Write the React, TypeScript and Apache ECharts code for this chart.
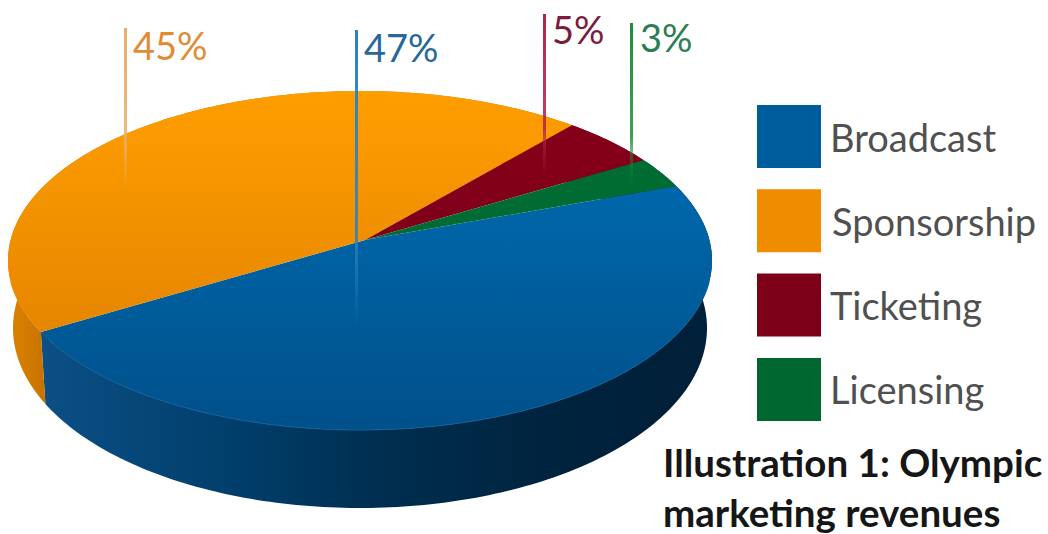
import React, { useEffect, useRef } from "react";
import * as echarts from "echarts";

// Olympic marketing revenue shares, in percent
const categories = ["Broadcast", "Sponsorship", "Ticketing", "Licensing"];
const shares = [47, 45, 5, 3];

const swatchColors = ["#005d9c", "#f08c00", "#7b0018", "#00662f"];
const topStops = [
  ["#0071b8", "#00508a"],
  ["#ff9e00", "#dc7c00"],
  ["#860018", "#78001a"],
  ["#006f34", "#00642e"],
];
const rimColors = ["#0f5f98", "#ea9010", "#860018", "#006f34"];
const labelColors = ["#27679a", "#e08c34", "#7c1c3c", "#2e7c54"];
const calloutColors = ["#2b82c0", "#e6b068", "#b4224e", "#1f8e38"];
const calloutX = [355, 124, 543, 630];
const calloutTop = [30, 28, 14, 23];
const calloutBottom = [327, 190, 177, 187];
const labelX = [364, 133, 552, 640];
const labelY = [47, 45, 29, 37];
const legendTextInset = [4, 6, 4, 4];

// Projected disc: top face, base outline and the pie's vanishing tilt
const top = { cx: 360, cy: 260.5, rx: 352, ry: 169.5 };
const base = { cx: 360, cy: 328, rx: 347, ry: 180 };
const apex = [365, 240];
const tilt = 0.115;
const startAngle = 20;

const total = shares.reduce((a, b) => a + b, 0);

function sliceRange(index: number) {
  let before = 0;
  for (let i = 0; i < index; i++) before += shares[i];
  const from = startAngle - (before / total) * 360;
  return { from, sweep: (shares[index] / total) * 360 };
}

// A rim angle on the round pie, carried through the perspective tilt
function project(deg: number, e: { cx: number; cy: number; rx: number; ry: number }) {
  const u = Math.cos((deg * Math.PI) / 180);
  const v = Math.sin((deg * Math.PI) / 180);
  const w = 1 + tilt * v;
  const x = (u * Math.sqrt(1 - tilt * tilt)) / w;
  const y = (v + tilt) / w;
  return [e.cx + e.rx * x, e.cy - e.ry * y];
}

function arc(index: number, e: typeof top) {
  const { from, sweep } = sliceRange(index);
  const n = Math.max(8, Math.ceil(sweep));
  const pts: number[][] = [];
  for (let i = 0; i <= n; i++) pts.push(project(from - (sweep * i) / n, e));
  return pts;
}

const blueSide = new echarts.graphic.LinearGradient(
  47, 0, 712, 0,
  [
    { offset: 0, color: "#0b4f85" },
    { offset: 0.3, color: "#003d69" },
    { offset: 0.52, color: "#002d4e" },
    { offset: 0.8, color: "#00223c" },
    { offset: 1, color: "#001f38" },
  ],
  true
);
const orangeSide = new echarts.graphic.LinearGradient(
  10, 0, 47, 0,
  [
    { offset: 0, color: "#d98200" },
    { offset: 1, color: "#c87200" },
  ],
  true
);
const sideFills = [blueSide, orangeSide, "#5a0012", "#004a22"];

function renderSide(params: any) {
  const i = params.dataIndex;
  const points = [...arc(i, top), ...arc(i, base).reverse()];
  return { type: "polygon", shape: { points }, style: { fill: sideFills[i] }, silent: true };
}

function renderTop(index: number) {
  return () => {
    const rim = arc(index, top);
    const front = rim.filter((p) => p[1] > top.cy + 20);
    const children: any[] = [
      {
        type: "polygon",
        shape: { points: [apex, ...rim] },
        style: {
          fill: new echarts.graphic.LinearGradient(
            0, top.cy - top.ry, 0, top.cy + top.ry,
            [
              { offset: 0, color: topStops[index][0] },
              { offset: 1, color: topStops[index][1] },
            ],
            true
          ),
        },
      },
    ];
    if (front.length > 1) {
      children.push({
        type: "polyline",
        shape: { points: front },
        style: { fill: "none", stroke: rimColors[index], lineWidth: 1 },
      });
    }
    return { type: "group", silent: true, children };
  };
}

function renderCallout(params: any, api: any) {
  const i = params.dataIndex;
  const y0 = calloutTop[i];
  const y1 = calloutBottom[i];
  const c = echarts.color.parse(calloutColors[i]);
  const rgba = (a: number) => `rgba(${c[0]},${c[1]},${c[2]},${a})`;
  return {
    type: "group",
    silent: true,
    children: [
      {
        type: "rect",
        shape: { x: calloutX[i], y: y0, width: 3, height: y1 - y0 },
        style: {
          fill: new echarts.graphic.LinearGradient(0, 0, 0, 1, [
            { offset: 0, color: rgba(1) },
            { offset: 0.7, color: rgba(0.85) },
            { offset: 1, color: rgba(0) },
          ]),
        },
      },
      {
        type: "text",
        style: {
          text: `${api.value(0)}%`,
          x: labelX[i],
          y: labelY[i],
          fill: labelColors[i],
          font: '38px Lato',
          verticalAlign: "middle",
        },
      },
    ],
  };
}

export default function App() {
  const ref = useRef<HTMLDivElement>(null);
  useEffect(() => {
    const chart = echarts.init(ref.current!, undefined, { renderer: "svg" });
    const sideOrder = shares.map((v) => [v]);
    chart.setOption({
      animation: false,
      backgroundColor: "#ffffff",
      title: {
        left: 663,
        top: 437,
        padding: 0,
        text: "Illustration 1: Olympic\nmarketing revenues",
        textStyle: {
          fontFamily: "Lato",
          fontWeight: "bold",
          fontSize: 38.5,
          lineHeight: 50,
          color: "#161616",
        },
      },
      legend: {
        orient: "vertical",
        left: 757,
        top: 105,
        padding: 0,
        itemWidth: 64,
        itemHeight: 63,
        itemGap: 21.3,
        icon: "rect",
        selectedMode: false,
        data: categories.map((name, i) => ({
          name,
          itemStyle: { color: swatchColors[i] },
          textStyle: {
            fontFamily: "Lato",
            fontSize: 38,
            color: "#505050",
            padding: [0, 0, 0, legendTextInset[i]],
          },
        })),
      },
      series: [
        {
          type: "custom",
          name: "Edge",
          coordinateSystem: "none",
          renderItem: renderSide,
          data: sideOrder,
          silent: true,
        },
        ...categories.map((name, i) => ({
          type: "custom",
          name,
          coordinateSystem: "none",
          itemStyle: { color: swatchColors[i] },
          renderItem: renderTop(i),
          data: [[shares[i]]],
          silent: true,
        })),
        {
          type: "custom",
          name: "Callouts",
          coordinateSystem: "none",
          renderItem: renderCallout,
          data: sideOrder,
          silent: true,
        },
      ],
    });
    return () => chart.dispose();
  }, []);
  return (
    <div
      ref={ref}
      style={{ position: "fixed", left: 0, top: 0, width: 1048, height: 534 }}
    />
  );
}
